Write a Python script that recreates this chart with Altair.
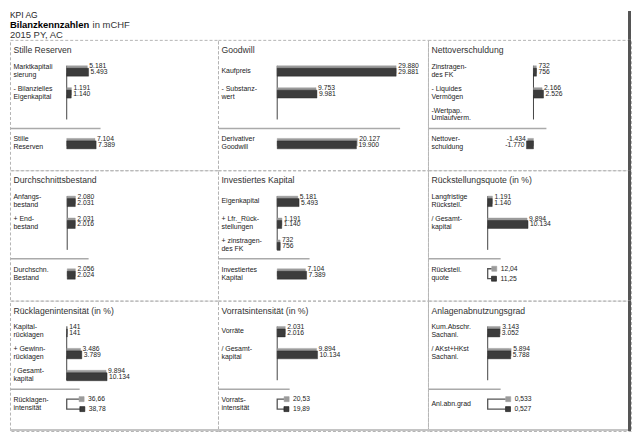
import altair as alt
import pandas as pd

FONT = "Liberation Sans"

# ---------------- data ----------------
header_company = "KPI AG"
header_title = "Bilanzkennzahlen"
header_unit = "in mCHF"
header_scenario = "2015 PY, AC"

panel_titles = ["Stille Reserven", "Goodwill", "Nettoverschuldung",
                "Durchschnittsbestand", "Investiertes Kapital", "Rückstellungsquote (in %)",
                "Rücklagenintensität (in %)", "Vorratsintensität (in %)", "Anlagenabnutzungsgrad"]

stille_labels = ["Marktkapitali\nsierung", "- Bilanzielles\nEigenkapital"]
stille_py = [5181, 1191]
stille_ac = [5493, 1140]

goodwill_labels = ["Kaufpreis", "- Substanz-\nwert"]
goodwill_py = [29880, 9753]
goodwill_ac = [29881, 9981]

netto_labels = ["Zinstragen-\ndes FK", "- Liquides\nVermögen", "-Wertpap.\nUmlaufverm."]
netto_py = [732, 2166, None]
netto_ac = [756, 2526, None]

bestand_labels = ["Anfangs-\nbestand", "+ End-\nbestand"]
bestand_py = [2080, 2031]
bestand_ac = [2031, 2016]

invest_labels = ["Eigenkapital", "+ Lfr._Rück-\nstellungen", "+ zinstragen-\ndes FK"]
invest_py = [5181, 1191, 732]
invest_ac = [5493, 1140, 756]

rueckst_labels = ["Langfristige\nRückstell.", "/ Gesamt-\nkapital"]
rueckst_py = [1191, 9894]
rueckst_ac = [1140, 10134]

ruecklag_labels = ["Kapital-\nrücklagen", "+ Gewinn-\nrücklagen", "/ Gesamt-\nkapital"]
ruecklag_py = [141, 3486, 9894]
ruecklag_ac = [141, 3789, 10134]

vorrat_labels = ["Vorräte", "/ Gesamt-\nkapital"]
vorrat_py = [2031, 9894]
vorrat_ac = [2016, 10134]

anlagen_labels = ["Kum.Abschr.\nSachanl.", "/ AKst+HKst\nSachanl."]
anlagen_py = [3143, 5894]
anlagen_ac = [3052, 5788]

result_labels = ["Stille\nReserven", "Derivativer\nGoodwill", "Nettover-\nschuldung",
                 "Durchschn.\nBestand", "Investiertes\nKapital", "Rückstell.\nquote",
                 "Rücklagen-\nintensität", "Vorrats-\nintensität", "Anl.abn.grad"]
result_py = [7104, 20127, -1434, 2056, 7104, 12.04, 36.66, 20.53, 0.533]
result_ac = [7389, 19900, -1770, 2024, 7389, 11.25, 38.78, 19.89, 0.527]
result_kind = ["amount", "amount", "amount", "amount", "amount",
               "percent", "percent", "percent", "ratio"]

panel_rows = [
    (stille_labels, stille_py, stille_ac),
    (goodwill_labels, goodwill_py, goodwill_ac),
    (netto_labels, netto_py, netto_ac),
    (bestand_labels, bestand_py, bestand_ac),
    (invest_labels, invest_py, invest_ac),
    (rueckst_labels, rueckst_py, rueckst_ac),
    (ruecklag_labels, ruecklag_py, ruecklag_ac),
    (vorrat_labels, vorrat_py, vorrat_ac),
    (anlagen_labels, anlagen_py, anlagen_ac),
]

# ---------------- layout / style ----------------
COL_W = [209, 211, 204]
H = 131
HEADER_H = 29
STEP = 22.0          # px between rows
ROW0 = 31.0          # px of first row centre
RES_Y = 104.0        # px of result row centre
LINE_H = 8.0
AXIS_X = [57, 59.5, 106, 57.5, 59.5, 60, 57, 59.5, 60]
SEP_LEN = [91, 183, 119, 79, 92, 73, 70, 72, 73]
MCHF_PER_PX = 250.0
PCT_PER_PX = 1 / 0.34
PY_C = "#9b9b9b"
AC_C = "#3c3c3c"
TXT = "#222222"
DARK_EDGE = "#555555"


def fmt_amount(v):
    s = f"{abs(v):,.0f}".replace(",", ".")
    return ("-" if v < 0 else "") + s


def fmt_result(v, kind):
    if kind == "percent":
        return f"{v:.2f}".replace(".", ",")
    if kind == "ratio":
        return f"{v:.3f}".replace(".", ",")
    return fmt_amount(v)


def build_panel(i):
    col = i % 3
    band = i // 3
    W = COL_W[col]
    ax = AXIS_X[i]
    labels, py, ac = panel_rows[i]
    kind = result_kind[i]
    res_r = (RES_Y - ROW0) / STEP

    ys = alt.Scale(domain=[-ROW0 / STEP, (H - ROW0) / STEP], range=[0, H], nice=False, zero=False)
    xs = alt.Scale(domain=[-ax * MCHF_PER_PX, (W - ax) * MCHF_PER_PX], range=[0, W],
                   nice=False, zero=False)
    f = 0.01 if kind == "ratio" else 1.0
    xp = alt.Scale(domain=[-ax * PCT_PER_PX * f, (W - ax) * PCT_PER_PX * f], range=[0, W],
                   nice=False, zero=False)

    layers = []

    # panel title
    layers.append(
        alt.Chart(pd.DataFrame({"t": [panel_titles[i]]}))
        .mark_text(align="left", baseline="middle", font=FONT, fontSize=8.7, color="#333333")
        .encode(text="t:N", x=alt.value(3.5), y=alt.value(10))
    )

    # row labels (split into lines)
    lines = []
    for lab, r in zip(list(labels) + [result_labels[i]], list(range(len(labels))) + [res_r]):
        parts = lab.split("\n")
        n = len(parts)
        for k, p in enumerate(parts):
            lines.append({"t": p, "y": r + (k - (n - 1) / 2) * LINE_H / STEP})
    layers.append(
        alt.Chart(pd.DataFrame(lines))
        .mark_text(align="left", baseline="middle", font=FONT, fontSize=7, color=TXT)
        .encode(text="t:N", x=alt.value(3.5), y=alt.Y("y:Q", scale=ys, axis=None))
    )

    # vertical axis line
    layers.append(
        alt.Chart(pd.DataFrame({"x": [0], "y1": [-5 / STEP], "y2": [2 + 5 / STEP]}))
        .mark_rule(color="#444444", strokeWidth=1)
        .encode(x=alt.X("x:Q", scale=xs, axis=None), y=alt.Y("y1:Q", scale=ys, axis=None), y2="y2:Q")
    )

    # separator
    layers.append(
        alt.Chart(pd.DataFrame({"a": [0]}))
        .mark_rule(color="#aaaaaa", strokeWidth=1.5)
        .encode(x=alt.value(1), x2=alt.value(SEP_LEN[i]), y=alt.value(89))
    )

    # bars
    recs = []
    rows = list(zip(range(len(py)), py, ac))
    if kind == "amount":
        rows.append((res_r, result_py[i], result_ac[i]))
    for r, p, a in rows:
        if p is None:
            continue
        recs.append({"s": "PY", "v": p, "z": 0, "y1": r - 5 / STEP, "y2": r + 2.5 / STEP,
                     "ly": r - 4.5 / STEP, "lab": fmt_amount(p)})
        recs.append({"s": "AC", "v": a, "z": 0, "y1": r - 2.5 / STEP, "y2": r + 5.5 / STEP,
                     "ly": r + 1.5 / STEP, "lab": fmt_amount(a)})
    bdf = pd.DataFrame(recs)
    for s, c in (("PY", PY_C), ("AC", AC_C)):
        layers.append(
            alt.Chart(bdf).transform_filter(alt.datum.s == s)
            .mark_rect(color=c, stroke="#1e1e1e" if s == "AC" else c, strokeWidth=0.4)
            .encode(x=alt.X("v:Q", scale=xs, axis=None), x2="z:Q",
                    y=alt.Y("y1:Q", scale=ys, axis=None), y2="y2:Q")
        )
    layers.append(
        alt.Chart(bdf).transform_filter(alt.datum.v >= 0)
        .mark_text(align="left", baseline="middle", dx=2, font=FONT, fontSize=6.8, color=TXT)
        .encode(x=alt.X("v:Q", scale=xs, axis=None), y=alt.Y("ly:Q", scale=ys, axis=None), text="lab:N")
    )
    if (bdf["v"] < 0).any():
        layers.append(
            alt.Chart(bdf).transform_filter(alt.datum.v < 0)
            .mark_text(align="right", baseline="middle", dx=-2, font=FONT, fontSize=6.8, color=TXT)
            .encode(x=alt.X("v:Q", scale=xs, axis=None), y=alt.Y("ly:Q", scale=ys, axis=None), text="lab:N")
        )

    # percent / ratio result: squares with bracket
    if kind != "amount":
        y_py = res_r - 5 / STEP
        y_ac = res_r + 5 / STEP
        vp, va = result_py[i], result_ac[i]
        br = pd.DataFrame({"o": [0, 1, 2, 3], "x": [vp, 0, 0, va], "y": [y_py, y_py, y_ac, y_ac]})
        layers.append(
            alt.Chart(br).mark_line(color="#555555", strokeWidth=1.3)
            .encode(x=alt.X("x:Q", scale=xp, axis=None), y=alt.Y("y:Q", scale=ys, axis=None), order="o:Q")
        )
        sq = pd.DataFrame({"s": ["PY", "AC"], "v": [vp, va], "y": [y_py, y_ac],
                           "lab": [fmt_result(vp, kind), fmt_result(va, kind)]})
        for s, c in (("PY", PY_C), ("AC", AC_C)):
            layers.append(
                alt.Chart(sq).transform_filter(alt.datum.s == s)
                .mark_square(size=25, opacity=1, color=c, xOffset=2.5,
                             stroke="#111111" if s == "AC" else c, strokeWidth=0.6)
                .encode(x=alt.X("v:Q", scale=xp, axis=None), y=alt.Y("y:Q", scale=ys, axis=None))
            )
        layers.append(
            alt.Chart(sq).mark_text(align="left", baseline="middle", dx=9, font=FONT,
                                    fontSize=6.8, color=TXT)
            .encode(x=alt.X("v:Q", scale=xp, axis=None), y=alt.Y("y:Q", scale=ys, axis=None), text="lab:N")
        )

    # frame extras
    if col == 2:
        layers.append(
            alt.Chart(pd.DataFrame({"a": [0]})).mark_rule(color=DARK_EDGE, strokeWidth=3)
            .encode(x=alt.value(W - 1.5), y=alt.value(0), y2=alt.value(H))
        )
    if band == 2:
        layers.append(
            alt.Chart(pd.DataFrame({"a": [0]})).mark_rule(color="#c4c4c4", strokeWidth=2)
            .encode(x=alt.value(0), x2=alt.value(W - 3 if col == 2 else W), y=alt.value(H - 1))
        )

    return alt.layer(*layers).resolve_scale(x="independent").properties(width=W, height=H)


hdf = pd.DataFrame({"a": [0]})
no_frame = alt.ViewBackground(stroke="transparent")

header_left = alt.layer(
    alt.Chart(pd.DataFrame({"t": [header_company]}))
    .mark_text(align="left", baseline="top", font=FONT, fontSize=8.5, color=TXT)
    .encode(text="t:N", x=alt.value(0), y=alt.value(0.5)),
    alt.Chart(pd.DataFrame({"t": [header_title]}))
    .mark_text(align="left", baseline="top", font=FONT, fontSize=9.5, fontWeight="bold", color="#000000")
    .encode(text="t:N", x=alt.value(0), y=alt.value(9.5)),
    alt.Chart(pd.DataFrame({"t": [header_unit]}))
    .mark_text(align="left", baseline="top", font=FONT, fontSize=9.5, color="#333333")
    .encode(text="t:N", x=alt.value(83), y=alt.value(9.5)),
    alt.Chart(pd.DataFrame({"t": [header_scenario]}))
    .mark_text(align="left", baseline="top", font=FONT, fontSize=9.5, color="#333333")
    .encode(text="t:N", x=alt.value(0), y=alt.value(19)),
).properties(width=COL_W[0], height=HEADER_H, view=no_frame)

header_mid = (
    alt.Chart(hdf).mark_rule(strokeOpacity=0, strokeWidth=1)
    .encode(x=alt.value(10), x2=alt.value(20), y=alt.value(10))
    .properties(width=COL_W[1], height=HEADER_H, view=no_frame)
)

header_right = (
    alt.Chart(hdf).mark_rule(color=DARK_EDGE, strokeWidth=3)
    .encode(x=alt.value(COL_W[2] - 1.5), y=alt.value(0), y2=alt.value(HEADER_H))
    .properties(width=COL_W[2], height=HEADER_H, view=no_frame)
)

panels = [build_panel(i) for i in range(9)]

chart = (
    alt.concat(header_left, header_mid, header_right, *panels, columns=3, spacing=0, bounds="flush")
    .properties(padding=0)
    .configure_view(stroke="#b4b4b4", strokeDash=[3, 2], strokeWidth=1)
)

chart.save("out.html", embed_options={"renderer": "svg", "actions": False})
